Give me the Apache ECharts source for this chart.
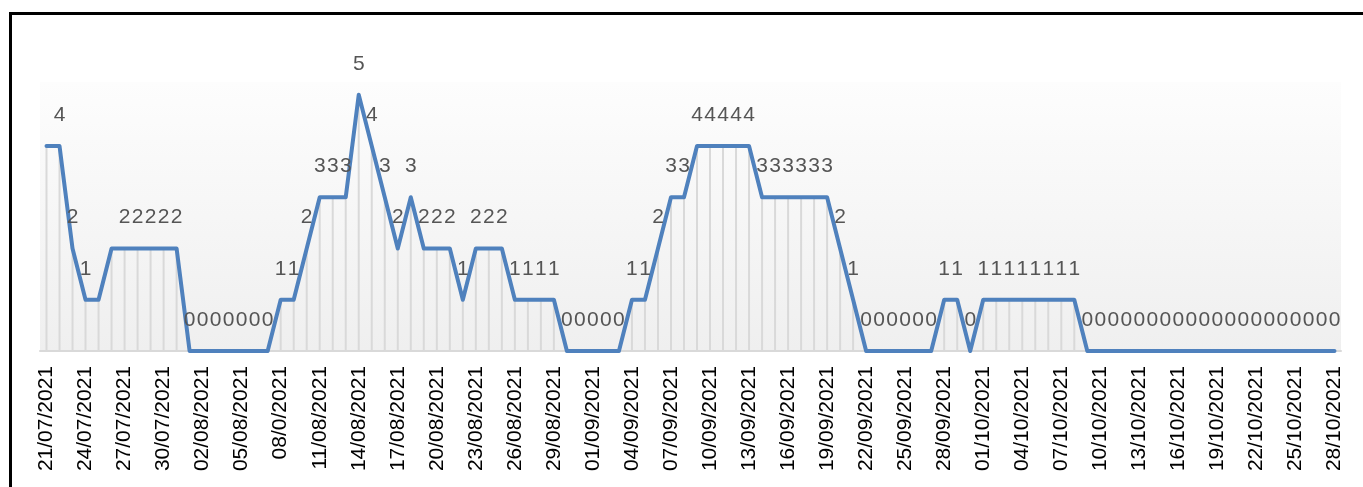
<!DOCTYPE html>
<html>
<head>
<meta charset="utf-8">
<script src="https://cdn.jsdelivr.net/npm/echarts@6/dist/echarts.min.js"></script>
<style>html,body{margin:0;padding:0;background:#fff;}#c{width:1363px;height:487px;}</style>
</head>
<body>
<div id="c"></div>
<script>
const categories = [
 "21/07/2021","22/07/2021","23/07/2021","24/07/2021","25/07/2021","26/07/2021","27/07/2021","28/07/2021","29/07/2021","30/07/2021","31/07/2021",
 "01/08/2021","02/08/2021","03/08/2021","04/08/2021","05/08/2021","06/08/2021","07/08/2021","08/0/2021","09/08/2021","10/08/2021",
 "11/08/2021","12/08/2021","13/08/2021","14/08/2021","15/08/2021","16/08/2021","17/08/2021","18/08/2021","19/08/2021","20/08/2021",
 "21/08/2021","22/08/2021","23/08/2021","24/08/2021","25/08/2021","26/08/2021","27/08/2021","28/08/2021","29/08/2021","30/08/2021","31/08/2021",
 "01/09/2021","02/09/2021","03/09/2021","04/09/2021","05/09/2021","06/09/2021","07/09/2021","08/09/2021","09/09/2021","10/09/2021",
 "11/09/2021","12/09/2021","13/09/2021","14/09/2021","15/09/2021","16/09/2021","17/09/2021","18/09/2021","19/09/2021","20/09/2021",
 "21/09/2021","22/09/2021","23/09/2021","24/09/2021","25/09/2021","26/09/2021","27/09/2021","28/09/2021","29/09/2021","30/09/2021",
 "01/10/2021","02/10/2021","03/10/2021","04/10/2021","05/10/2021","06/10/2021","07/10/2021","08/10/2021","09/10/2021","10/10/2021",
 "11/10/2021","12/10/2021","13/10/2021","14/10/2021","15/10/2021","16/10/2021","17/10/2021","18/10/2021","19/10/2021","20/10/2021",
 "21/10/2021","22/10/2021","23/10/2021","24/10/2021","25/10/2021","26/10/2021","27/10/2021","28/10/2021"
];
const values = [
 4,4,2,1,1,2,2,2,2,2,2,
 0,0,0,0,0,0,0,1,1,2,
 3,3,3,5,4,3,2,3,2,2,
 2,1,2,2,2,1,1,1,1,0,0,
 0,0,0,1,1,2,3,3,4,4,
 4,4,4,3,3,3,3,3,3,2,
 1,0,0,0,0,0,0,1,1,0,
 1,1,1,1,1,1,1,1,0,0,
 0,0,0,0,0,0,0,0,0,0,
 0,0,0,0,0,0,0,0
];
const hiddenLabels = [0, 4, 5];

const lineData = values.map((v, i) => hiddenLabels.includes(i) ? {value: v, label: {show: false}} : v);

const chart = echarts.init(document.getElementById('c'), null, {renderer: 'canvas'});
chart.setOption({
  animation: false,
  backgroundColor: '#ffffff',
  graphic: [{
    type: 'rect', silent: true, z: 100,
    shape: {x: 10.5, y: 13.5, width: 1400, height: 520},
    style: {fill: 'none', stroke: '#000', lineWidth: 3}
  }],
  grid: {
    left: 40, right: 22, top: 82, bottom: 136,
    show: true, borderWidth: 0,
    backgroundColor: new echarts.graphic.LinearGradient(0, 0, 0, 1, [
      {offset: 0, color: '#fdfdfd'},
      {offset: 1, color: '#efefef'}
    ])
  },
  xAxis: {
    type: 'category',
    data: categories,
    boundaryGap: true,
    axisLine: {show: true, lineStyle: {color: '#d9d9d9', width: 2}},
    axisTick: {show: false},
    splitLine: {show: false},
    axisLabel: {
      interval: 2, rotate: 90, margin: 15,
      color: '#000', fontFamily: 'Liberation Sans', fontSize: 21
    }
  },
  yAxis: {
    type: 'value', min: 0, max: 5.25, show: false,
    splitLine: {show: false}
  },
  series: [
    {
      type: 'bar',
      data: values,
      barWidth: 2,
      itemStyle: {color: '#d9d9d9'},
      silent: true,
      z: 1
    },
    {
      type: 'line',
      data: lineData,
      symbol: 'circle',
      symbolSize: 1,
      showSymbol: true,
      showAllSymbol: true,
      itemStyle: {color: 'rgba(0,0,0,0)'},
      lineStyle: {color: '#4f81bd', width: 4, join: 'round', cap: 'round'},
      label: {
        show: true, position: 'top', distance: 20,
        color: '#555555', fontFamily: 'Liberation Sans', fontSize: 21
      },
      labelLayout: {hideOverlap: false},
      z: 3
    }
  ]
});
</script>
</body>
</html>
